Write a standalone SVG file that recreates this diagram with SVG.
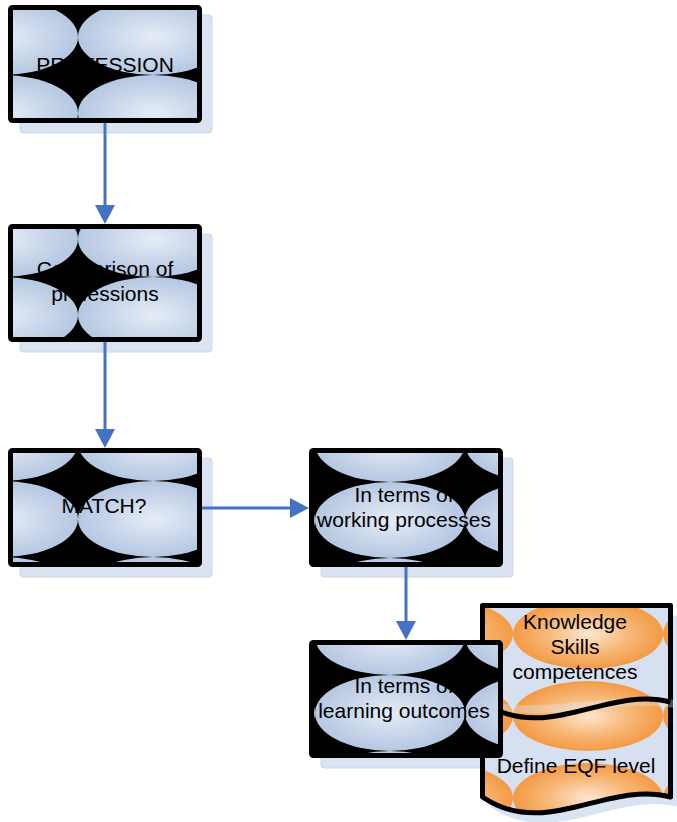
<svg xmlns="http://www.w3.org/2000/svg" width="677" height="822" viewBox="0 0 677 822">
<style>
.shadow{fill:#dae3f2;stroke:#cbd6ea;stroke-width:1}
.frame{stroke:#000;stroke-width:5;stroke-linejoin:round}
.lbl{font-family:"Liberation Sans",Arial,sans-serif;font-size:21px;fill:#000;text-anchor:middle}
.conn{stroke:#4472c4;stroke-width:3;fill:none}
</style>
<defs>
<radialGradient id="gb" cx="0.5" cy="0.5" r="0.5">
<stop offset="0" stop-color="#e6ecf6"/>
<stop offset="1" stop-color="#b5c7e2"/>
</radialGradient>
<radialGradient id="go" cx="0.5" cy="0.5" r="0.5">
<stop offset="0" stop-color="#fde6d0"/>
<stop offset="0.55" stop-color="#f7b878"/>
<stop offset="1" stop-color="#f39a45"/>
</radialGradient>
<pattern id="p1" patternUnits="userSpaceOnUse" x="78" y="75" width="150" height="76">
<rect width="150" height="76" fill="#000"/><ellipse cx="75" cy="38" rx="75" ry="38" fill="url(#gb)"/>
</pattern>
<pattern id="p2" patternUnits="userSpaceOnUse" x="78" y="277" width="150" height="76">
<rect width="150" height="76" fill="#000"/><ellipse cx="75" cy="38" rx="75" ry="38" fill="url(#gb)"/>
</pattern>
<pattern id="p3" patternUnits="userSpaceOnUse" x="78" y="481" width="150" height="76">
<rect width="150" height="76" fill="#000"/><ellipse cx="75" cy="38" rx="75" ry="38" fill="url(#gb)"/>
</pattern>
<pattern id="p4" patternUnits="userSpaceOnUse" x="315" y="482" width="150" height="76">
<rect width="150" height="76" fill="#000"/><ellipse cx="75" cy="38" rx="75" ry="38" fill="url(#gb)"/>
</pattern>
<pattern id="p5" patternUnits="userSpaceOnUse" x="315" y="675" width="150" height="76">
<rect width="150" height="76" fill="#000"/><ellipse cx="75" cy="38" rx="75" ry="38" fill="url(#gb)"/>
</pattern>
<pattern id="po" patternUnits="userSpaceOnUse" x="513" y="593" width="150" height="82">
<rect width="150" height="82" fill="#d6e0f0"/><ellipse cx="75" cy="41" rx="75" ry="35" fill="url(#go)"/>
</pattern>
<marker id="ah" markerUnits="userSpaceOnUse" markerWidth="20" markerHeight="20" refX="0" refY="10" orient="auto">
<path d="M0,0 L19,10 L0,20 Z" fill="#4472c4"/>
</marker>
</defs>

<g id="shadows">
<rect class="shadow" x="20" y="15" width="192" height="118" rx="3"/>
<rect class="shadow" x="20" y="234" width="192" height="118" rx="3"/>
<rect class="shadow" x="20" y="458" width="192" height="119" rx="3"/>
<rect class="shadow" x="321" y="458" width="192" height="119" rx="3"/>
<rect class="shadow" x="321" y="650" width="192" height="118" rx="3"/>
</g>

<g id="node-profession">
<rect class="frame" x="10.5" y="7.5" width="189" height="113" rx="2" fill="url(#p1)"/>
<text class="lbl" x="105" y="72">PROFESSION</text>
</g>

<g id="node-comparison">
<rect class="frame" x="10.5" y="226.5" width="189" height="113" rx="2" fill="url(#p2)"/>
<text class="lbl" x="105" y="276">Comparison of</text>
<text class="lbl" x="105" y="301">professions</text>
</g>

<g id="node-match">
<rect class="frame" x="10.5" y="450.5" width="189" height="114" rx="2" fill="url(#p3)"/>
<text class="lbl" x="104" y="513">MATCH?</text>
</g>

<g id="node-working">
<rect class="frame" x="311.5" y="450.5" width="189" height="114" rx="2" fill="url(#p4)"/>
<text class="lbl" x="404" y="502">In terms of</text>
<text class="lbl" x="404" y="527">working processes</text>
</g>

<g id="node-document">
<path d="M482.5,605.5 H670.5 V797 C608,780 545,840 482.5,797 Z" transform="translate(8,10)" fill="#dae3f2"/>
<path class="frame" d="M482.5,605.5 H670.5 V797 C608,780 545,840 482.5,797 Z" fill="url(#po)" stroke-linejoin="miter"/>
<path d="M503,708 C560,714 620,696 677,704" fill="none" stroke="#dfe7f4" stroke-width="8" opacity="0.35"/>
<path d="M482.5,702 C545,745 608,685 670.5,702" fill="none" stroke="#000" stroke-width="5"/>
<text class="lbl" x="575" y="629">Knowledge</text>
<text class="lbl" x="575" y="654">Skills</text>
<text class="lbl" x="575" y="679">competences</text>
<text class="lbl" x="576" y="773">Define EQF level</text>
</g>

<g id="node-learning">
<rect class="frame" x="311.5" y="642.5" width="189" height="113" rx="2" fill="url(#p5)"/>
<text class="lbl" x="404" y="693">In terms of</text>
<text class="lbl" x="404" y="718">learning outcomes</text>
</g>

<g id="connectors">
<line class="conn" x1="105" y1="123" x2="105" y2="205" marker-end="url(#ah)"/>
<line class="conn" x1="105" y1="342" x2="105" y2="429" marker-end="url(#ah)"/>
<line class="conn" x1="202" y1="508" x2="290" y2="508" marker-end="url(#ah)"/>
<line class="conn" x1="406" y1="567" x2="406" y2="621" marker-end="url(#ah)"/>
</g>
</svg>
